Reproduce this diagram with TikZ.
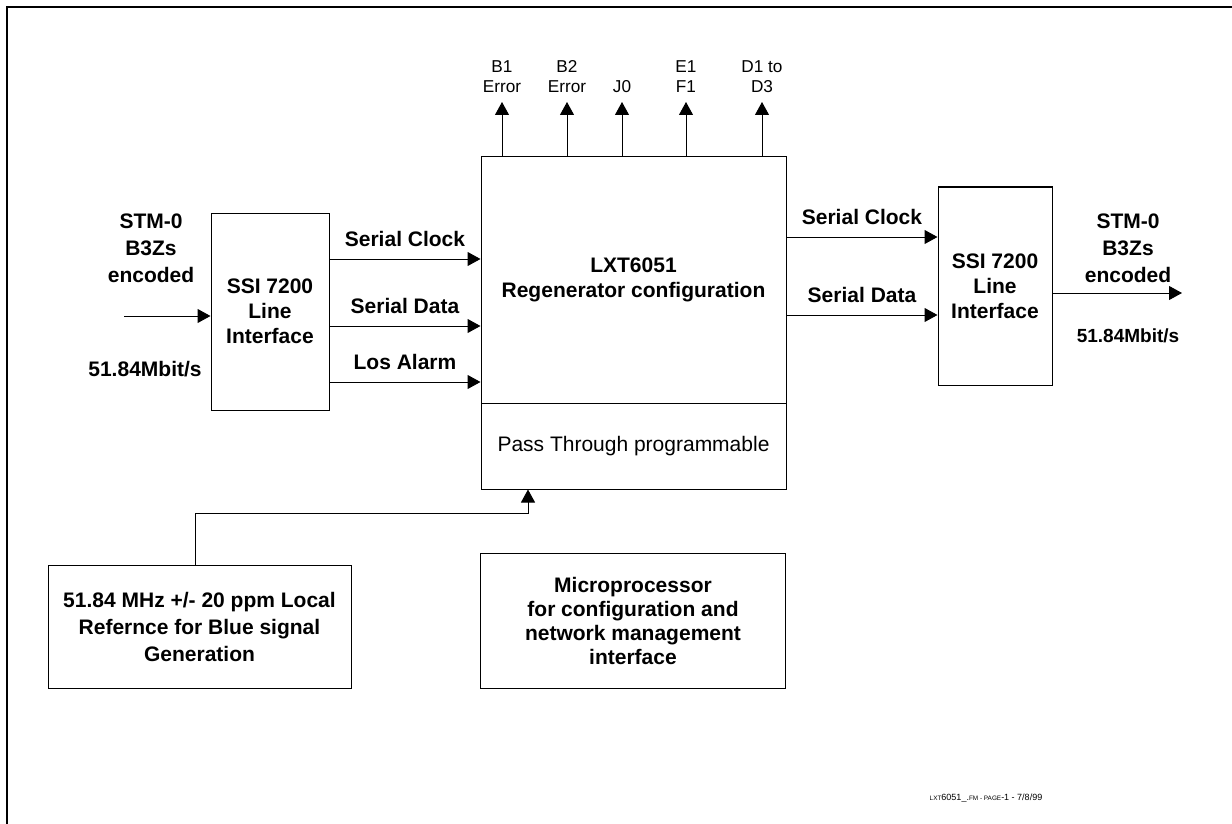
\documentclass[tikz,border=0pt]{standalone}
\usepackage{fontspec}
\setmainfont{Liberation Sans}
\usetikzlibrary{positioning, arrows.meta, calc}

\begin{document}
\begin{tikzpicture}[
    x=0.5pt, y=-0.5pt,
    box/.style={rectangle, draw, line width=0.5pt, inner sep=0pt, align=center,
                font=\bfseries\fontsize{10.5}{12.5}\selectfont},
    lbl/.style={align=center, font=\bfseries\fontsize{10.5}{13.5}\selectfont},
    toplbl/.style={align=center, font=\fontsize{8.6}{10}\selectfont},
    sig/.style={-{Triangle[length=6.5pt,width=7pt]}, line width=0.5pt}
]
\useasboundingbox (0,0) rectangle (1232,824);

% page frame
\draw[line width=1pt] (7,830) -- (7,7) -- (1240,7);

% blocks
\node[box, minimum width=59pt, minimum height=98.5pt] (ssiIn) at (270,311.5) {SSI 7200\\Line\\Interface};
\node[box, minimum width=152.5pt, minimum height=123pt, font=\bfseries\fontsize{10.5}{12.5}\selectfont] (regen) at (633.5,280) {LXT6051\\Regenerator configuration};
\node[box, minimum width=152.5pt, minimum height=43pt, font=\fontsize{10.5}{12.5}\selectfont] (pass) at (633.5,446) {Pass Through programmable};
\node[box, minimum width=57pt, minimum height=99pt] (ssiOut) at (995,286) {SSI 7200\\Line\\Interface};
\node[box, minimum width=151.5pt, minimum height=61.5pt, font=\bfseries\fontsize{10.5}{13.5}\selectfont] (ref) at (199.5,626.5) {51.84 MHz +/- 20 ppm Local\\Refernce for Blue signal\\Generation};
\node[box, minimum width=152.5pt, minimum height=67.5pt, font=\bfseries\fontsize{10.5}{12}\selectfont] (micro) at (633,620.5) {Microprocessor\\for configuration and\\network management\\interface};

% line side
\node[lbl] (stmIn) at (151,248) {STM-0\\B3Zs\\encoded};
\node[lbl] (rateIn) at (145,369) {51.84Mbit/s};
\coordinate (lineIn) at (124,316);
\draw[sig] (lineIn) -- (ssiIn.west |- lineIn);

\node[lbl] (stmOut) at (1128,248) {STM-0\\B3Zs\\encoded};
\node[lbl, font=\bfseries\fontsize{9.5}{11}\selectfont] (rateOut) at (1128,336) {51.84Mbit/s};
\coordinate (lineOut) at (1182,293);
\draw[sig] (ssiOut.east |- lineOut) -- (lineOut);

% serial signals
\draw[sig] (ssiIn.east |- 0,259) -- node[lbl, above=2.5pt] {Serial Clock} (regen.west |- 0,259);
\draw[sig] (ssiIn.east |- 0,326) -- node[lbl, above=2.5pt] {Serial Data} (regen.west |- 0,326);
\draw[sig] (ssiIn.east |- 0,382) -- node[lbl, above=2.5pt] {Los Alarm} (regen.west |- 0,382);
\draw[sig] (regen.east |- 0,237) -- node[lbl, above=2.5pt] {Serial Clock} (ssiOut.west |- 0,237);
\draw[sig] (regen.east |- 0,315) -- node[lbl, above=2.5pt] {Serial Data} (ssiOut.west |- 0,315);

% overhead outputs
\node[toplbl] (b1) at (502,77) {B1\\Error};
\node[toplbl] (b2) at (567,77) {B2\\Error};
\node[toplbl] (j0) at (622,87) {J0};
\node[toplbl] (e1) at (686,77) {E1\\F1};
\node[toplbl] (d1) at (762,77) {D1 to\\D3};
\foreach \o in {b1,b2,j0,e1,d1}
    \draw[sig] (regen.north -| \o) -- (\o |- 0,102);

% local reference
\draw[sig] (ref.north -| 195,0) -- (195,513) -| (pass.south -| 528,0);

\node[font=\fontsize{4.5}{5}\selectfont] (foot) at (986,798)
    {{\fontsize{3.2}{4}\selectfont LXT}6051\_.{\fontsize{3.2}{4}\selectfont FM - PAGE}-1 - 7/8/99};

\end{tikzpicture}
\end{document}
